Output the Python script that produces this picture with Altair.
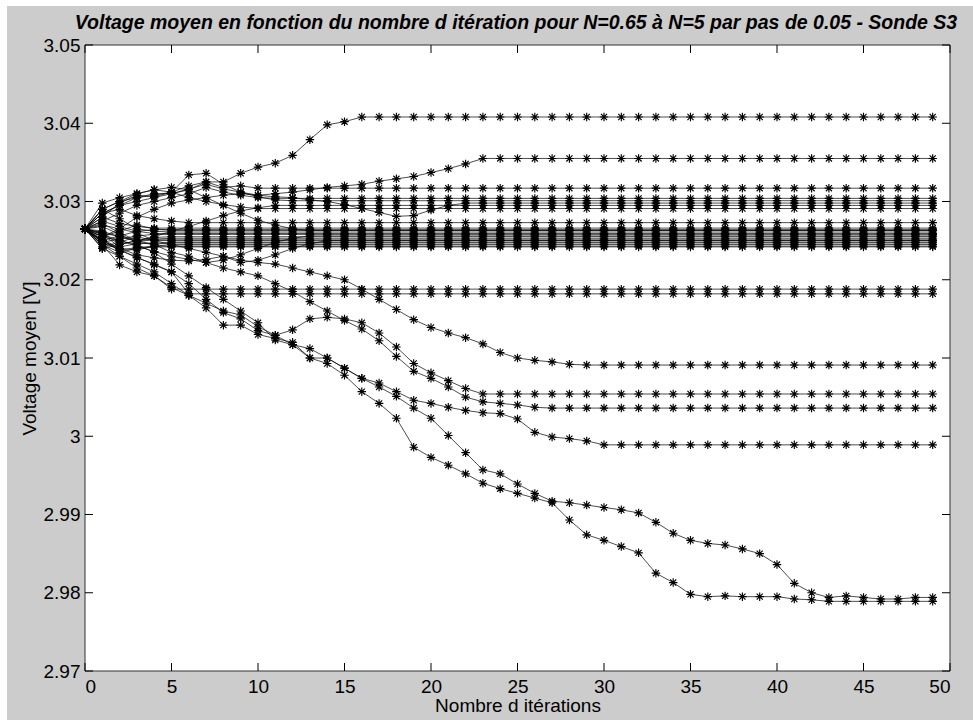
import altair as alt
import pandas as pd

# ---------------- data ----------------
title_text = "Voltage moyen en fonction du nombre d itération pour N=0.65 à N=5 par pas de 0.05 - Sonde S3"
iterations = list(range(50))
x_ticks = [0, 5, 10, 15, 20, 25, 30, 35, 40, 45, 50]
y_ticks = [2.97, 2.98, 2.99, 3.00, 3.01, 3.02, 3.03, 3.04, 3.05]

s_top = [3.0265, 3.0285, 3.0295, 3.0305, 3.0310, 3.0310, 3.0315, 3.0325, 3.0325, 3.0336,
         3.0344, 3.0349, 3.0359, 3.0379, 3.0398, 3.0402] + [3.0408] * 34
s_3035 = [3.0265, 3.0285, 3.0295, 3.0300, 3.0305, 3.0310, 3.0316, 3.0322, 3.0316, 3.0312,
          3.0308, 3.0310, 3.0312, 3.0315, 3.0318, 3.0320, 3.0322, 3.0326, 3.0329, 3.0332,
          3.0337, 3.0342, 3.0348] + [3.0355] * 27
s_3031 = [3.0265, 3.0280, 3.0298, 3.0308, 3.0306, 3.0312, 3.0320, 3.0325, 3.0318, 3.0320] + [3.0317] * 40
c1 = [3.0265, 3.0275, 3.0285, 3.0295, 3.0300, 3.0305, 3.0310, 3.0318, 3.0312, 3.0308, 3.0305] + [3.0304] * 39
c2 = [3.0265, 3.0290, 3.0300, 3.0305, 3.0308, 3.0312, 3.0334, 3.0336, 3.0322, 3.0312, 3.0306, 3.0302] + [3.0301] * 38
c3 = [3.0265, 3.0255, 3.0265, 3.0280, 3.0290, 3.0298, 3.0302, 3.0305, 3.0308, 3.0310,
      3.0308, 3.0306, 3.0305, 3.0302, 3.0300, 3.0296, 3.0291, 3.0286, 3.0281, 3.0282,
      3.0289, 3.0295] + [3.0298] * 28
c4 = [3.0265, 3.0240, 3.0245, 3.0250, 3.0255, 3.0262, 3.0268, 3.0275, 3.0282, 3.0288, 3.0292] + [3.0295] * 39
c5 = [3.0265, 3.0298, 3.0305, 3.0310, 3.0315, 3.0312, 3.0305, 3.0300, 3.0296, 3.0293] + [3.0291] * 40

b0 = [3.0265, 3.0285, 3.0290, 3.0282, 3.0278, 3.0275] + [3.0273] * 44
b1 = [3.0265, 3.0280, 3.0272, 3.0268] + [3.0266] * 46
b2 = [3.0265, 3.0255, 3.0262, 3.0270, 3.0265] + [3.0263] * 45
b3 = [3.0265, 3.0290, 3.0278, 3.0265, 3.0262] + [3.0261] * 45
b4 = [3.0265, 3.0248, 3.0252, 3.0256] + [3.0258] * 46
b5 = [3.0265, 3.0272, 3.0260, 3.0250, 3.0254] + [3.0255] * 45
b6 = [3.0265, 3.0260, 3.0245, 3.0250, 3.0252] + [3.0253] * 45
b7 = [3.0265, 3.0242, 3.0248, 3.0255] + [3.0250] * 46
b8 = [3.0265, 3.0268, 3.0258, 3.0248, 3.0245] + [3.0248] * 45
b9 = [3.0265, 3.0252, 3.0240, 3.0238, 3.0243] + [3.0245] * 45
b10 = [3.0265, 3.0245, 3.0235, 3.0240] + [3.0242] * 46
b11 = [3.0265, 3.0275, 3.0268, 3.0262] + [3.0264] * 46
b12 = [3.0265, 3.0250, 3.0256, 3.0262] + [3.0259] * 46
b13 = [3.0265, 3.0262, 3.0255, 3.0249] + [3.0251] * 46
b14 = [3.0265, 3.0258, 3.0242, 3.0246] + [3.0247] * 46
b15 = [3.0265, 3.0248, 3.0238, 3.0241] + [3.0243] * 46
d1 = [3.0265, 3.0290, 3.0300, 3.0310, 3.0315, 3.0318, 3.0315, 3.0305, 3.0295, 3.0285,
      3.0276, 3.0270, 3.0265] + [3.0263] * 37
d2 = [3.0265, 3.0250, 3.0240, 3.0232, 3.0228, 3.0225, 3.0224, 3.0226, 3.0230, 3.0222,
      3.0225, 3.0232, 3.0240, 3.0246] + [3.0250] * 36
d3 = [3.0265, 3.0258, 3.0250, 3.0243, 3.0236, 3.0230, 3.0226, 3.0222, 3.0225, 3.0232,
      3.0240, 3.0248, 3.0253] + [3.0256] * 37

e1 = [3.0265, 3.0245, 3.0219, 3.0210, 3.0205] + [3.0188] * 45
e2 = [3.0265, 3.0250, 3.0238, 3.0229, 3.0219, 3.0210] + [3.0182] * 44

s_3009 = [3.0265, 3.0270, 3.0265, 3.0260, 3.0250, 3.0245, 3.0240, 3.0235, 3.0230, 3.0225,
          3.0222, 3.0220, 3.0215, 3.0210, 3.0205, 3.0200, 3.0188, 3.0175, 3.0162, 3.0149,
          3.0139, 3.0132, 3.0126, 3.0118, 3.0107, 3.0100, 3.0097, 3.0095, 3.0092] + [3.0091] * 21
s_3005 = [3.0265, 3.0240, 3.0230, 3.0215, 3.0205, 3.0190, 3.0180, 3.0170, 3.0160, 3.0155,
          3.0140, 3.0129, 3.0136, 3.0150, 3.0152, 3.0150, 3.0145, 3.0132, 3.0114, 3.0093,
          3.0081, 3.0071, 3.0061] + [3.0054] * 27
s_3003 = [3.0265, 3.0260, 3.0255, 3.0250, 3.0245, 3.0235, 3.0230, 3.0222, 3.0215, 3.0210,
          3.0205, 3.0195, 3.0185, 3.0172, 3.0160, 3.0148, 3.0137, 3.0122, 3.0102, 3.0083,
          3.0074, 3.0063, 3.0050, 3.0044, 3.0042, 3.0040, 3.0037] + [3.0036] * 23
s_2999 = [3.0265, 3.0255, 3.0250, 3.0245, 3.0235, 3.0220, 3.0205, 3.0190, 3.0175, 3.0160,
          3.0145, 3.0123, 3.0117, 3.0112, 3.0100, 3.0087, 3.0074, 3.0068, 3.0057, 3.0046,
          3.0042, 3.0037, 3.0033, 3.0030, 3.0029, 3.0022, 3.0005, 2.9999, 2.9997, 2.9994] + [2.9989] * 20
s_low_a = [3.0265, 3.0250, 3.0238, 3.0228, 3.0220, 3.0210, 3.0195, 3.0175, 3.0158, 3.0150,
           3.0135, 3.0129, 3.0117, 3.0100, 3.0100, 3.0087, 3.0074, 3.0063, 3.0051, 3.0036,
           3.0023, 3.0001, 2.9979, 2.9957, 2.9952, 2.9939, 2.9927, 2.9917, 2.9915, 2.9912,
           2.9909, 2.9906, 2.9902, 2.9890, 2.9876, 2.9867, 2.9863, 2.9861, 2.9856, 2.9850,
           2.9836, 2.9812, 2.9800, 2.9794, 2.9796, 2.9794, 2.9792, 2.9792, 2.9794, 2.9794]
s_low_b = [3.0265, 3.0245, 3.0230, 3.0220, 3.0210, 3.0195, 3.0180, 3.0164, 3.0142, 3.0142,
           3.0130, 3.0125, 3.0120, 3.0100, 3.0093, 3.0078, 3.0057, 3.0042, 3.0023, 2.9986,
           2.9973, 2.9963, 2.9952, 2.9940, 2.9933, 2.9927, 2.9921, 2.9915, 2.9893, 2.9874,
           2.9867, 2.9859, 2.9851, 2.9825, 2.9813, 2.9798, 2.9795, 2.9796, 2.9795, 2.9795,
           2.9795, 2.9792, 2.9791] + [2.9789] * 7

series = {
    "s_top": s_top, "s_3035": s_3035, "s_3031": s_3031,
    "c1": c1, "c2": c2, "c3": c3, "c4": c4, "c5": c5,
    "b0": b0, "b1": b1, "b2": b2, "b3": b3, "b4": b4, "b5": b5, "b6": b6,
    "b7": b7, "b8": b8, "b9": b9, "b10": b10, "b11": b11, "b12": b12, "b13": b13,
    "b14": b14, "b15": b15, "d1": d1, "d2": d2, "d3": d3,
    "e1": e1, "e2": e2, "s_3009": s_3009, "s_3005": s_3005, "s_3003": s_3003,
    "s_2999": s_2999, "s_low_a": s_low_a, "s_low_b": s_low_b,
}

rows = []
for name, vals in series.items():
    for i, v in zip(iterations, vals):
        rows.append({"series": name, "iter": i, "value": v})
df = pd.DataFrame(rows)
xt = pd.DataFrame({"iter": x_ticks})
yt = pd.DataFrame({"value": y_ticks})
one = pd.DataFrame({"k": [0]})
title_df = pd.DataFrame({"label": [title_text]})

# ---------------- chart ----------------
W, H = 865, 626
PAD_L, PAD_T, PAD_R, PAD_B = 85, 45, 23, 49
FONT = "Liberation Sans"
FIG_GRAY = "#cccccc"
ASTERISK = "M-1,0H1M0,-1V1M-0.72,-0.72L0.72,0.72M-0.72,0.72L0.72,-0.72"

xscale = alt.Scale(domain=[0, 50], nice=False, zero=False)
yscale = alt.Scale(domain=[2.97, 3.05], nice=False, zero=False)

x_axis = alt.Axis(values=x_ticks, ticks=False, domain=False, grid=False, labelPadding=6,
                  format="d", title="Nombre d itérations", titlePadding=0, zindex=2)
y_axis = alt.Axis(values=y_ticks, ticks=False, domain=False, grid=False, labelPadding=5,
                  labelExpr="abs(datum.value - 3) < 1e-9 ? '3' : format(datum.value, '.2f')",
                  title="Voltage moyen [V]", titlePadding=4, zindex=2)

X = alt.X("iter:Q", scale=xscale, axis=x_axis)
Y = alt.Y("value:Q", scale=yscale, axis=y_axis)

# figure background (gray window with thin white margin at top/left)
fig_bg = alt.Chart(one).mark_rect(fill=FIG_GRAY, stroke=None).encode(
    x=alt.value(-PAD_L + 7), x2=alt.value(W + PAD_R),
    y=alt.value(-PAD_T + 6), y2=alt.value(H + PAD_B))
plot_bg = alt.Chart(one).mark_rect(fill="white", stroke="#333333", strokeWidth=1).encode(
    x=alt.value(0), x2=alt.value(W), y=alt.value(0), y2=alt.value(H))

title_mark = alt.Chart(title_df).mark_text(
    font=FONT, fontSize=19.5, fontWeight="bold", fontStyle="italic", color="black",
    align="center", baseline="alphabetic").encode(
    text="label:N", x=alt.value(431), y=alt.value(-16))

base = alt.Chart(df)
lines = base.mark_line(color="black", strokeWidth=0.7).encode(
    x=X, y=Y, detail="series:N")
points = base.mark_point(shape=ASTERISK, size=72, filled=False, color="black",
                         strokeWidth=1.15, opacity=1).encode(
    x=X, y=Y, detail="series:N")

TL = 8
tick_style = dict(color="black", strokeWidth=1)
xb = alt.Chart(xt).mark_rule(**tick_style).encode(x=X, y=alt.value(H), y2=alt.value(H - TL))
xtop = alt.Chart(xt).mark_rule(**tick_style).encode(x=X, y=alt.value(0), y2=alt.value(TL))
yl = alt.Chart(yt).mark_rule(**tick_style).encode(y=Y, x=alt.value(0), x2=alt.value(TL))
yr = alt.Chart(yt).mark_rule(**tick_style).encode(y=Y, x=alt.value(W), x2=alt.value(W - TL))

chart = alt.layer(fig_bg, plot_bg, lines, points, xb, xtop, yl, yr, title_mark).properties(
    width=W, height=H,
    padding={"left": PAD_L, "top": PAD_T, "right": PAD_R, "bottom": PAD_B},
    autosize=alt.AutoSizeParams(type="none"),
).configure(background="white").configure_view(
    stroke=None
).configure_axis(
    labelFont=FONT, titleFont=FONT, labelFontSize=19, titleFontSize=19,
    labelColor="black", titleColor="black", titleFontWeight="normal"
)

chart.save("out.html", embed_options={"renderer": "svg", "actions": False})
